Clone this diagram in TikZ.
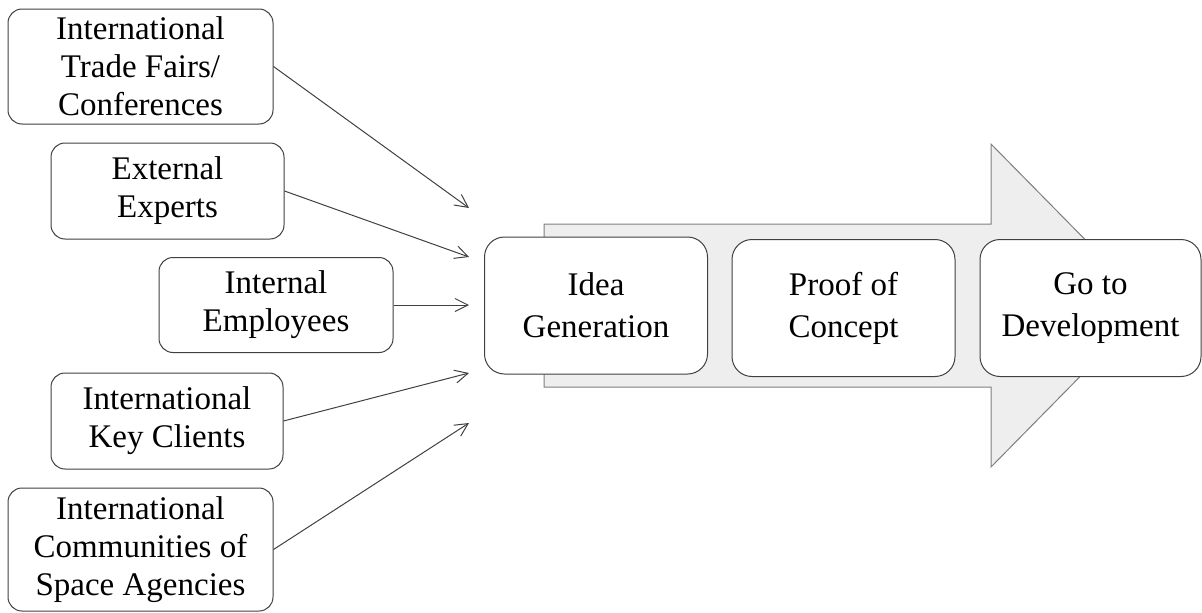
\documentclass[tikz,border=0pt]{standalone}
\usepackage{fontspec}
\setmainfont{Liberation Serif}
\usepackage{tikz}
\usetikzlibrary{arrows.meta,calc,positioning}
\definecolor{arrowfill}{HTML}{EEEEEE}
\definecolor{arrowline}{HTML}{7F7F7F}
\definecolor{boxline}{HTML}{404040}

\begin{document}
\begin{tikzpicture}[x=1pt,y=-1pt,
    srcbox/.style={draw=boxline, fill=white, rounded corners=14pt, line width=1pt,
      align=center, inner sep=0pt, font=\fontsize{33}{38}\selectfont},
    stagebox/.style={draw=boxline, fill=white, rounded corners=20pt, line width=1pt,
      align=center, inner sep=0pt, font=\fontsize{33}{42}\selectfont,
      minimum width=223pt, minimum height=137pt},
    feed/.style={-{Straight Barb[length=13pt,width=13pt]}, draw=boxline, line width=1pt}]
        \useasboundingbox (0,0) rectangle (1202,613);
        % Draw the big arrow
        \filldraw[fill=arrowfill, draw=arrowline, line width=1pt] (544,224) -- (991,224) -- (991,144) -- (1150,305.5) -- (991,467) -- (991,387) -- (544,387) -- cycle;
        % sources
        \node[srcbox, minimum width=265pt, minimum height=115pt] (fairs) at (140.5,66.5) {International\\Trade Fairs/\\Conferences};
        \node[srcbox, minimum width=233pt, minimum height=96pt] (experts) at (167.5,191) {External\\Experts};
        \node[srcbox, minimum width=234pt, minimum height=95pt] (staff) at (276,305) {Internal\\Employees};
        \node[srcbox, minimum width=232pt, minimum height=96pt] (clients) at (167,421) {International\\Key Clients};
        \node[srcbox, minimum width=265pt, minimum height=123pt] (agencies) at (140.5,549.5) {International\\Communities of\\Space Agencies};
        % stages
        \node[stagebox] (idea) at (596,305.5) {Idea\\Generation};
        \node[stagebox] (proof) at (843.5,308) {Proof of\\Concept};
        \node[stagebox, minimum width=221pt] (dev) at (1090.5,308) {Go to\\Development};
        % inputs
        \foreach \src/\ty in {fairs/208, experts/257, staff/305, clients/373, agencies/423} {
          \coordinate (in-\src) at (469,\ty);
          \draw[feed] (\src.east) -- (in-\src);
        }
      \end{tikzpicture}
\end{document}
